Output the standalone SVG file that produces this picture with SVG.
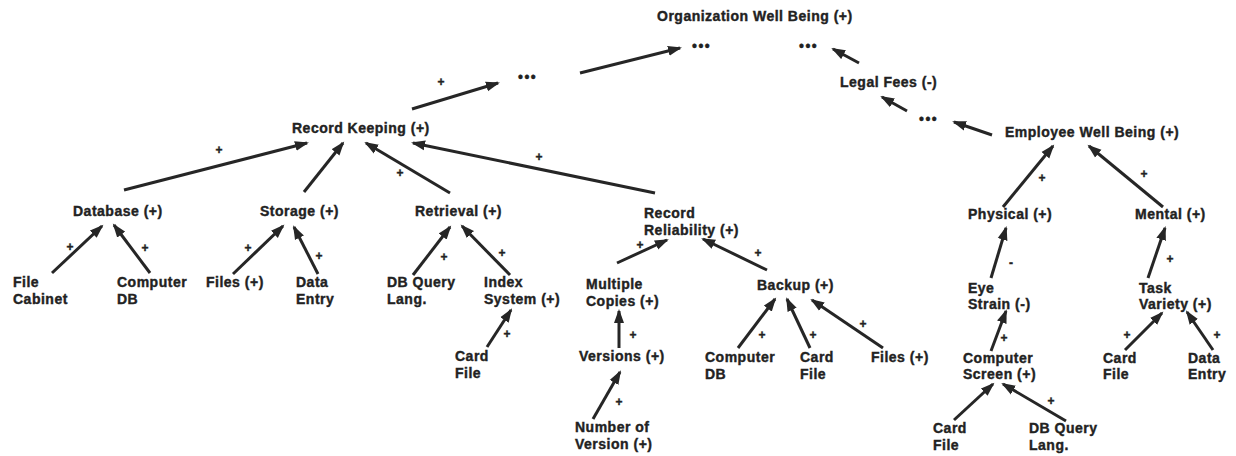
<svg xmlns="http://www.w3.org/2000/svg" width="1236" height="456" viewBox="0 0 1236 456">
<style>
text{font-family:"Liberation Sans",Arial,sans-serif;font-weight:bold;font-size:14px;fill:#222;stroke:#222;stroke-width:0.4px;letter-spacing:0.5px}
.s{font-size:12px;text-anchor:middle;letter-spacing:0}
.d{letter-spacing:1.5px}
.c path{stroke:#262626;stroke-width:3;fill:none;marker-end:url(#ah)}
</style>
<defs>
<marker id="ah" markerUnits="userSpaceOnUse" markerWidth="15" markerHeight="11" viewBox="0 0 15 11" refX="12" refY="5.5" orient="auto">
<path d="M0,0.5 L14,5.5 L0,10.5 z" fill="#262626"/>
</marker>
</defs>
<rect width="1236" height="456" fill="#fff"/>

<g class="c" id="connectors">
<path d="M124,190 L307,143"/>
<path d="M52,273 L102,226"/>
<path d="M150,273 L114,225"/>
<path d="M304,192 L343,143"/>
<path d="M233,274 L283,226"/>
<path d="M318,274 L294,227"/>
<path d="M450,193 L366,143"/>
<path d="M655,193 L413,143"/>
<path d="M412,109 L498,83"/>
<path d="M580,73 L680,48"/>
<path d="M859,63 L833,49"/>
<path d="M907,111 L882,97"/>
<path d="M992,135 L954,122"/>
<path d="M1003,207 L1053,146"/>
<path d="M1163,207 L1089,146"/>
<path d="M991,278 L1006,228"/>
<path d="M991,351 L1006,311"/>
<path d="M954,420 L993,384"/>
<path d="M1066,421 L1003,384"/>
<path d="M1148,278 L1165,228"/>
<path d="M1125,350 L1162,313"/>
<path d="M1213,350 L1187,312"/>
<path d="M413,275 L450,227"/>
<path d="M510,275 L462,226"/>
<path d="M487,347 L511,310"/>
<path d="M617,263 L667,240"/>
<path d="M767,270 L703,239"/>
<path d="M619,348 L619,311"/>
<path d="M593,419 L620,372"/>
<path d="M738,348 L775,299"/>
<path d="M810,348 L787,299"/>
<path d="M883,348 L812,300"/>
<g id="signs">
<text class="s" x="219" y="154">+</text>
<text class="s" x="70" y="251">+</text>
<text class="s" x="145" y="252">+</text>
<text class="s" x="248" y="252">+</text>
<text class="s" x="319" y="260">+</text>
<text class="s" x="400" y="177">+</text>
<text class="s" x="539" y="161">+</text>
<text class="s" x="444" y="261">+</text>
<text class="s" x="502" y="257">+</text>
<text class="s" x="507" y="338">+</text>
<text class="s" x="441" y="86">+</text>
<text class="s" x="640" y="249">+</text>
<text class="s" x="758" y="257">+</text>
<text class="s" x="633" y="339">+</text>
<text class="s" x="619" y="406">+</text>
<text class="s" x="762" y="339">+</text>
<text class="s" x="813" y="339">+</text>
<text class="s" x="863" y="328">+</text>
<text class="s" x="1042" y="182">+</text>
<text class="s" x="1144" y="178">+</text>
<text class="s" x="1011" y="267">-</text>
<text class="s" x="1004" y="342">+</text>
<text class="s" x="1051" y="405">+</text>
<text class="s" x="1170" y="263">+</text>
<text class="s" x="1127" y="339">+</text>
<text class="s" x="1217" y="339">+</text>
</g>
</g>

<g id="n-org"><text x="657" y="21">Organization Well Being (+)</text></g>
<g id="n-e1"><text class="d" x="518" y="82">•••</text></g>
<g id="n-e2"><text class="d" x="692" y="51">•••</text></g>
<g id="n-e3"><text class="d" x="799" y="51">•••</text></g>
<g id="n-e4"><text class="d" x="919" y="124">•••</text></g>
<g id="n-legal"><text x="840" y="87">Legal Fees (-)</text></g>
<g id="n-employee"><text x="1005" y="137">Employee Well Being (+)</text></g>
<g id="n-record-keeping"><text x="292" y="133">Record Keeping (+)</text></g>
<g id="n-database"><text x="73" y="216">Database (+)</text></g>
<g id="n-storage"><text x="260" y="216">Storage (+)</text></g>
<g id="n-retrieval"><text x="415" y="216">Retrieval (+)</text></g>
<g id="n-reliability"><text x="644" y="218">Record</text><text x="644" y="235">Reliability (+)</text></g>
<g id="n-physical"><text x="968" y="219">Physical (+)</text></g>
<g id="n-mental"><text x="1135" y="219">Mental (+)</text></g>
<g id="n-file-cabinet"><text x="13" y="287">File</text><text x="13" y="304">Cabinet</text></g>
<g id="n-computer-db1"><text x="117" y="287">Computer</text><text x="117" y="304">DB</text></g>
<g id="n-files1"><text x="206" y="287">Files (+)</text></g>
<g id="n-data-entry1"><text x="296" y="287">Data</text><text x="296" y="304">Entry</text></g>
<g id="n-dbquery1"><text x="387" y="287">DB Query</text><text x="387" y="304">Lang.</text></g>
<g id="n-index"><text x="484" y="287">Index</text><text x="484" y="304">System (+)</text></g>
<g id="n-cardfile1"><text x="455" y="361">Card</text><text x="455" y="378">File</text></g>
<g id="n-multiple"><text x="586" y="289">Multiple</text><text x="586" y="306">Copies (+)</text></g>
<g id="n-backup"><text x="757" y="290">Backup (+)</text></g>
<g id="n-versions"><text x="579" y="361">Versions (+)</text></g>
<g id="n-computer-db2"><text x="705" y="362">Computer</text><text x="705" y="379">DB</text></g>
<g id="n-cardfile2"><text x="800" y="362">Card</text><text x="800" y="379">File</text></g>
<g id="n-files2"><text x="871" y="362">Files (+)</text></g>
<g id="n-number"><text x="575" y="432">Number of</text><text x="575" y="449">Version (+)</text></g>
<g id="n-eye"><text x="968" y="293">Eye</text><text x="968" y="309">Strain (-)</text></g>
<g id="n-task"><text x="1139" y="293">Task</text><text x="1139" y="309">Variety (+)</text></g>
<g id="n-screen"><text x="963" y="363">Computer</text><text x="963" y="379">Screen (+)</text></g>
<g id="n-cardfile3"><text x="1103" y="363">Card</text><text x="1103" y="379">File</text></g>
<g id="n-data-entry2"><text x="1188" y="363">Data</text><text x="1188" y="379">Entry</text></g>
<g id="n-cardfile4"><text x="933" y="433">Card</text><text x="933" y="450">File</text></g>
<g id="n-dbquery2"><text x="1029" y="433">DB Query</text><text x="1029" y="450">Lang.</text></g>
</svg>
